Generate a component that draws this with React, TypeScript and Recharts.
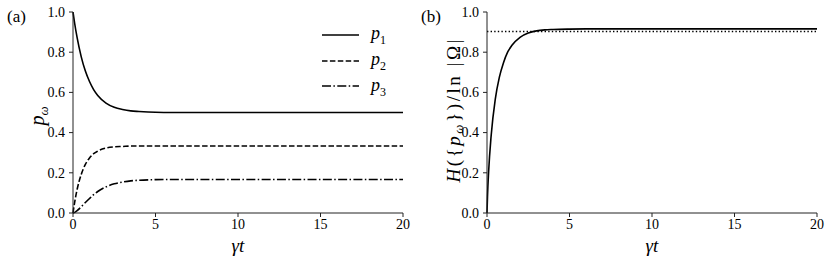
import React from "react";
import { LineChart, Line, XAxis, YAxis, ReferenceLine, Legend } from "recharts";

// values
const gammaT = [0, 0.03, 0.1, 0.25, 0.5, 0.75, 1, 1.25, 1.5, 2, 2.5, 3, 3.5, 4, 5, 6, 8, 10, 12, 15, 20];
const p1Vals = [1, 0.983, 0.944, 0.872, 0.777, 0.706, 0.654, 0.614, 0.585, 0.547, 0.526, 0.515, 0.508, 0.505, 0.501, 0.5, 0.5, 0.5, 0.5, 0.5, 0.5];
const p2Vals = [0, 0.017, 0.053, 0.117, 0.192, 0.242, 0.274, 0.295, 0.308, 0.323, 0.329, 0.331, 0.333, 0.333, 0.333, 0.333, 0.333, 0.333, 0.333, 0.333, 0.333];
const p3Vals = [0, 0.0006, 0.003, 0.012, 0.031, 0.052, 0.072, 0.091, 0.107, 0.13, 0.145, 0.154, 0.16, 0.163, 0.166, 0.167, 0.167, 0.167, 0.167, 0.167, 0.167];
const entropyVals = [0, 0.082, 0.208, 0.383, 0.565, 0.676, 0.748, 0.8, 0.833, 0.874, 0.895, 0.906, 0.911, 0.913, 0.915, 0.916, 0.916, 0.916, 0.916, 0.916, 0.916];
const entropyRef = 0.903;

const xTicks = [0, 5, 10, 15, 20];
const yTicks = [0, 0.2, 0.4, 0.6, 0.8, 1.0];

const data = gammaT.map((t, i) => ({
  t,
  p1: p1Vals[i],
  p2: p2Vals[i],
  p3: p3Vals[i],
  h: entropyVals[i],
}));

const seriesDefs = [
  { key: "p1", sub: "1", dash: undefined },
  { key: "p2", sub: "2", dash: "5.5 2.4" },
  { key: "p3", sub: "3", dash: "9 2.4 1.5 2.4" },
];

const FONT = "Liberation Serif";
const AXIS = "#222";

const XTick = (props: any) => (
  <text x={props.x} y={props.y} dy={11} textAnchor="middle" fontFamily={FONT} fontSize={14} fill="#000">
    {props.payload.value}
  </text>
);

const YTick = (props: any) => (
  <text x={props.x} y={props.y} dy={4.8} textAnchor="end" fontFamily={FONT} fontSize={14} fill="#000">
    {Number(props.payload.value).toFixed(1)}
  </text>
);

const LegendBox = () => (
  <div style={{ fontFamily: FONT }}>
    {seriesDefs.map((s) => (
      <div key={s.key} style={{ display: "flex", alignItems: "center", height: 25.8 }}>
        <svg width={40} height={6} style={{ display: "block" }}>
          <line x1={0} x2={37} y1={3} y2={3} stroke="#000" strokeWidth={1.6} strokeDasharray={s.dash} />
        </svg>
        <span style={{ marginLeft: 9, fontSize: 18, fontStyle: "italic", lineHeight: 1 }}>
          p<sub style={{ fontStyle: "normal", fontSize: 12 }}>{s.sub}</sub>
        </span>
      </div>
    ))}
  </div>
);

const frameAxes = [
  <XAxis key="xt" xAxisId="top" orientation="top" dataKey="t" type="number" domain={[0, 20]} tick={false} tickLine={false} height={0} axisLine={{ stroke: AXIS }} />,
  <YAxis key="yr" yAxisId="right" orientation="right" type="number" domain={[0, 1]} tick={false} tickLine={false} width={0} axisLine={{ stroke: AXIS }} />,
];

export default function App() {
  return (
    <div style={{ position: "absolute", left: 0, top: 0, width: 831, height: 262, background: "#fff", fontFamily: FONT }}>
      <div style={{ position: "absolute", left: 0, top: 0 }}>
        <LineChart width={420} height={262} data={data} margin={{ top: 12, right: 17, bottom: 0, left: 0 }}>
          <XAxis dataKey="t" type="number" domain={[0, 20]} ticks={xTicks} tickSize={4} tickMargin={1} height={49}
            axisLine={{ stroke: AXIS }} tickLine={{ stroke: AXIS }} tick={XTick} />
          <YAxis type="number" domain={[0, 1]} ticks={yTicks} tickSize={4} tickMargin={4} width={73}
            axisLine={{ stroke: AXIS }} tickLine={{ stroke: AXIS }} tick={YTick} />
          {frameAxes}
          {seriesDefs.map((s) => (
            <Line key={s.key} type="monotone" dataKey={s.key} stroke="#000" strokeWidth={1.6}
              strokeDasharray={s.dash} dot={false} isAnimationActive={false} />
          ))}
          <Legend layout="horizontal" verticalAlign="middle" align="center" content={<LegendBox />}
            wrapperStyle={{ top: 22, left: 322, width: "auto" }} />
        </LineChart>
      </div>
      <div style={{ position: "absolute", left: 414, top: 0 }}>
        <LineChart width={417} height={262} data={data} margin={{ top: 12, right: 14, bottom: 0, left: 0 }}>
          <XAxis dataKey="t" type="number" domain={[0, 20]} ticks={xTicks} tickSize={4} tickMargin={1} height={49}
            axisLine={{ stroke: AXIS }} tickLine={{ stroke: AXIS }} tick={XTick} />
          <YAxis type="number" domain={[0, 1]} ticks={yTicks} tickSize={4} tickMargin={4} width={73}
            axisLine={{ stroke: AXIS }} tickLine={{ stroke: AXIS }} tick={YTick} />
          {frameAxes}
          <ReferenceLine y={entropyRef} stroke="#000" strokeWidth={1.4} strokeDasharray="1.4 2.2" />
          <Line type="monotone" dataKey="h" stroke="#000" strokeWidth={1.6} dot={false} isAnimationActive={false} />
        </LineChart>
      </div>
      <svg width={831} height={262} style={{ position: "absolute", left: 0, top: 0, pointerEvents: "none" }}>
        <g fontFamily={FONT} fill="#000">
          <text x={7} y={21.5} fontSize={17}>(a)</text>
          <text x={421} y={21.5} fontSize={17}>(b)</text>
          <text x={238} y={252} fontSize={19} fontStyle="italic" textAnchor="middle">γt</text>
          <text x={652} y={252} fontSize={19} fontStyle="italic" textAnchor="middle">γt</text>
          <text x={44} y={116} fontSize={20} textAnchor="middle" transform="rotate(-90 44 116)">
            <tspan fontStyle="italic">p</tspan>
            <tspan fontStyle="italic" fontSize={13} dy={4}>ω</tspan>
          </text>
          <text x={460} y={111} fontSize={19} textAnchor="middle" transform="rotate(-90 460 111)"
            textLength={143} lengthAdjust="spacing">
            <tspan fontStyle="italic">H</tspan>
            <tspan>({"{"}</tspan>
            <tspan fontStyle="italic">p</tspan>
            <tspan fontStyle="italic" fontSize={13} dy={3}>ω</tspan>
            <tspan dy={-3}>{"})/ln |Ω|"}</tspan>
          </text>
        </g>
      </svg>
    </div>
  );
}
